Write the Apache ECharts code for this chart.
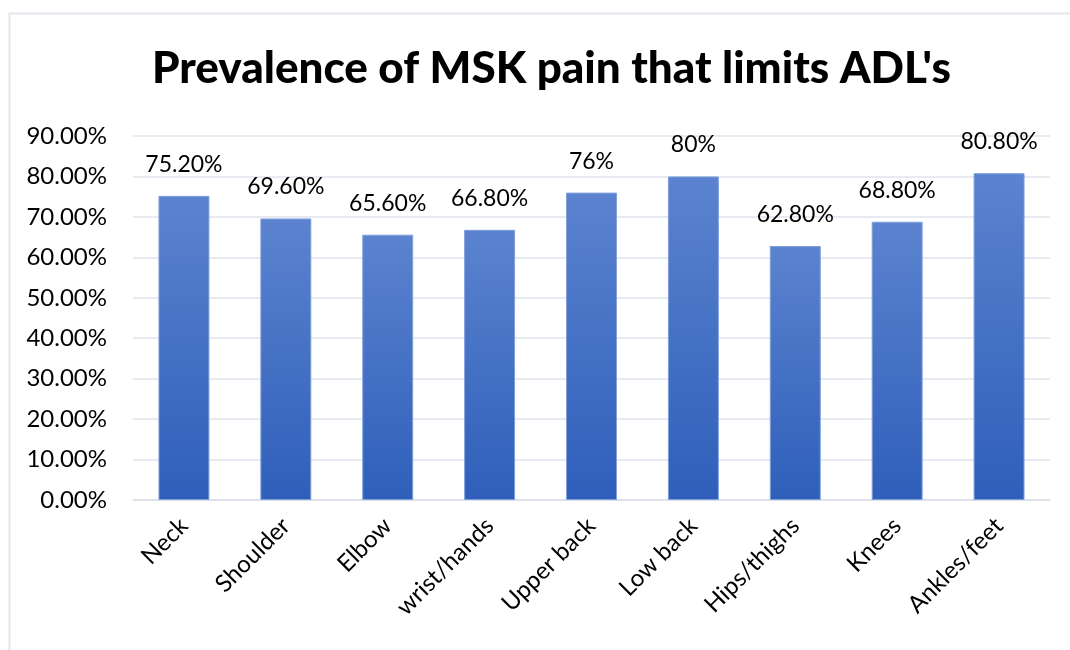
<!DOCTYPE html>
<html>
<head>
<meta charset="utf-8">
<script src="https://cdn.jsdelivr.net/npm/echarts@6/dist/echarts.min.js"></script>
<style>
  html, body { margin: 0; padding: 0; background: #ffffff; }
  #chart { width: 1070px; height: 650px; }
</style>
</head>
<body>
<div id="chart"></div>
<script>
// Body regions and the share of respondents whose pain limits daily activities
const categories = ['Neck', 'Shoulder', 'Elbow', 'wrist/hands', 'Upper back', 'Low back', 'Hips/thighs', 'Knees', 'Ankles/feet'];
const prevalence = [75.2, 69.6, 65.6, 66.8, 76, 80, 62.8, 68.8, 80.8];
const valueLabels = ['75.20%', '69.60%', '65.60%', '66.80%', '76%', '80%', '62.80%', '68.80%', '80.80%'];
const yTicks = { min: 0, max: 90, step: 10 };

const FONT = 'Lato, "Open Sans", "Liberation Sans", sans-serif';
const chart = echarts.init(document.getElementById('chart'), null, { renderer: 'canvas' });

chart.setOption({
  animation: false,
  backgroundColor: '#ffffff',
  title: {
    text: "Prevalence of MSK pain that limits ADL's",
    left: 147,
    top: 42,
    textStyle: { fontFamily: FONT, fontWeight: 900, fontSize: 44, color: '#000000' }
  },
  graphic: [{
    type: 'rect',
    shape: { x: 9.5, y: 13.5, width: 1100, height: 700 },
    style: { fill: 'none', stroke: '#e2e6ee', lineWidth: 2 },
    silent: true
  }],
  grid: { left: 133, right: 20, top: 136, bottom: 150 },
  xAxis: {
    type: 'category',
    data: categories,
    axisLine: { show: true, lineStyle: { color: '#d9dee8', width: 1.5 } },
    axisTick: { show: false },
    axisLabel: {
      rotate: 45,
      margin: 22,
      interval: 0,
      fontFamily: FONT,
      fontSize: 24,
      color: '#000000'
    }
  },
  yAxis: {
    type: 'value',
    min: yTicks.min,
    max: yTicks.max,
    interval: yTicks.step,
    axisLine: { show: false },
    axisTick: { show: false },
    splitLine: { lineStyle: { color: '#dfe3eb', width: 1.5 } },
    axisLabel: {
      margin: 26,
      fontFamily: FONT,
      fontSize: 24,
      color: '#000000',
      formatter: v => v.toFixed(2) + '%'
    }
  },
  series: [{
    type: 'bar',
    data: prevalence,
    barWidth: '50%',
    itemStyle: {
      color: {
        type: 'linear', x: 0, y: 0, x2: 0, y2: 1,
        colorStops: [
          { offset: 0, color: '#5b83cf' },
          { offset: 1, color: '#2f5fba' }
        ]
      },
      borderColor: '#7f9fdc',
      borderWidth: 1
    },
    label: {
      show: true,
      position: 'top',
      distance: 20,
      fontFamily: FONT,
      fontSize: 23,
      color: '#000000',
      formatter: p => valueLabels[p.dataIndex]
    }
  }]
});
</script>
</body>
</html>
